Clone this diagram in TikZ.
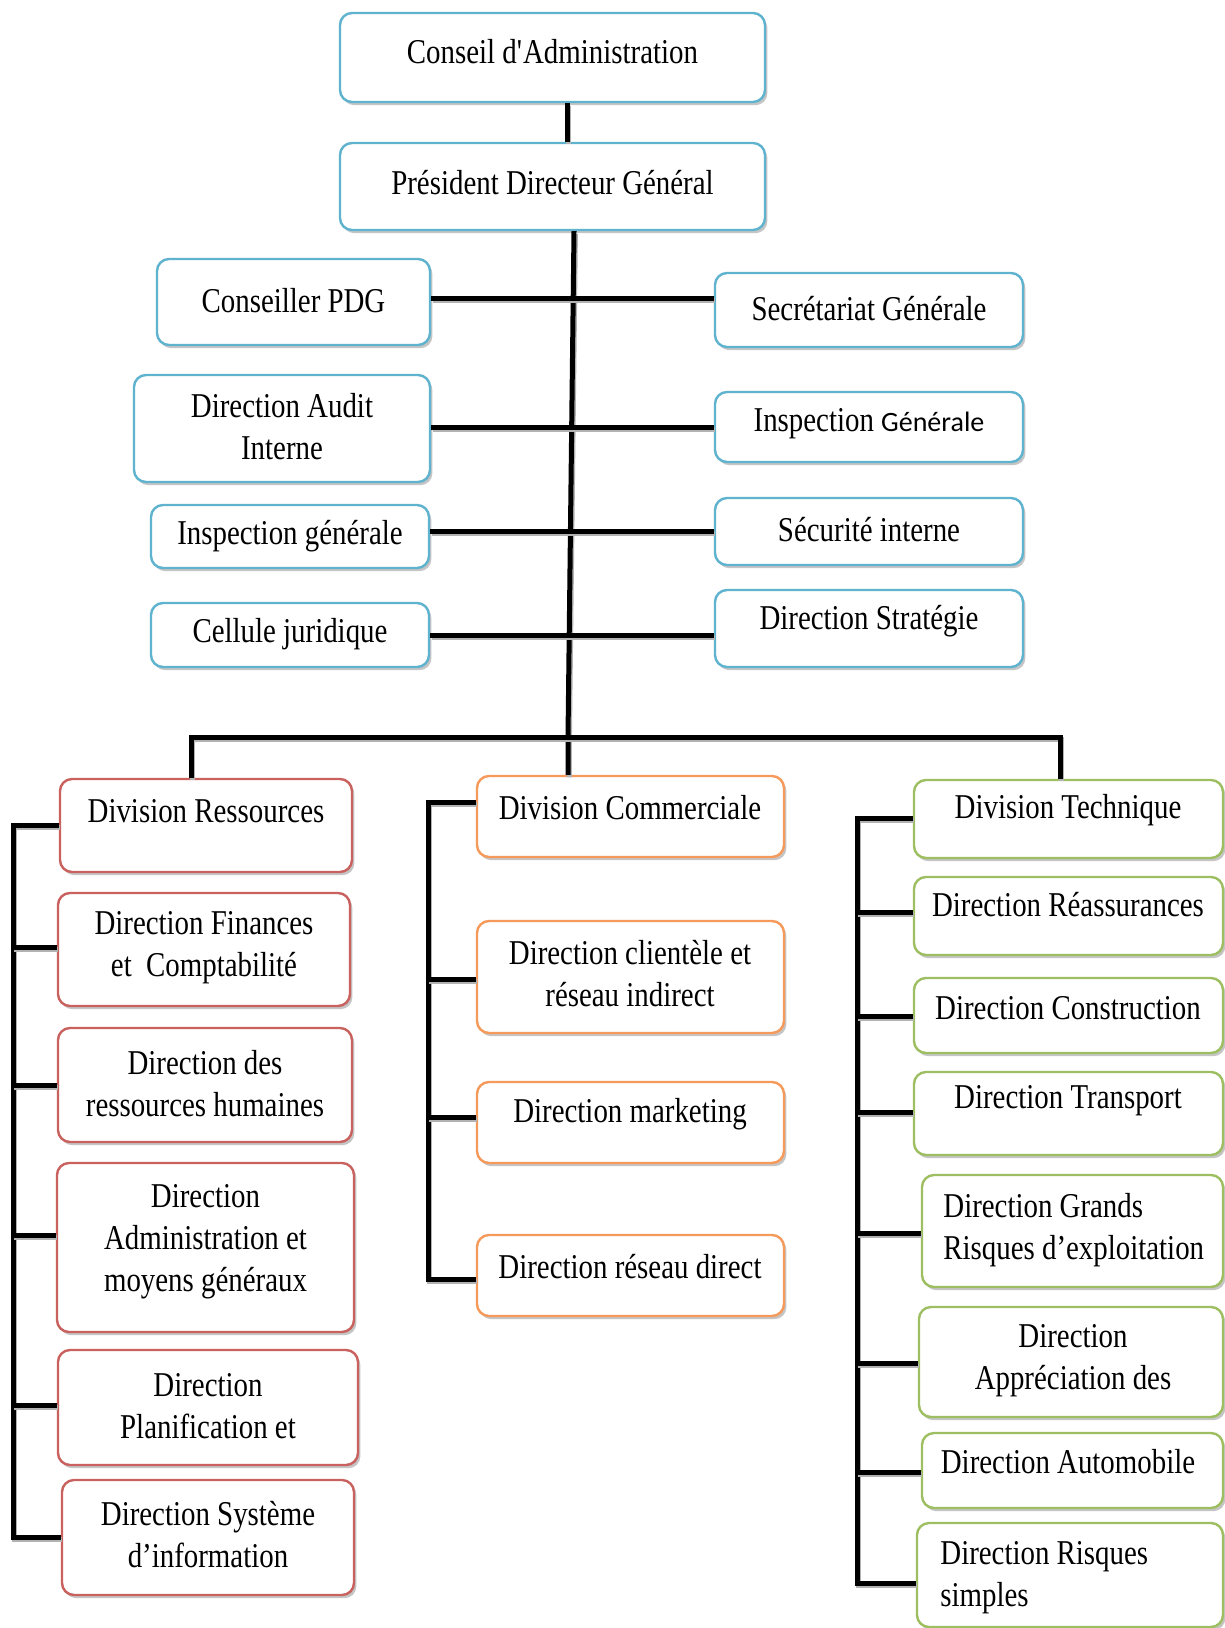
\documentclass[tikz,border=0pt]{standalone}
\usepackage{fontspec}
\setmainfont{Liberation Serif}[FakeStretch=0.83]
\newfontfamily\calib{Carlito}
\usetikzlibrary{fit,shadows}
\definecolor{cblue}{HTML}{5FB3CE}
\definecolor{cred}{HTML}{C9615E}
\definecolor{corange}{HTML}{F59A5A}
\definecolor{cgreen}{HTML}{9DBF62}
\tikzset{
  boxbase/.style={draw, line width=1.2pt, rounded corners=6pt, fill=white, inner sep=0pt,
    drop shadow={shadow xshift=1.2pt, shadow yshift=-1.6pt, fill=black!45, opacity=0.5}},
  bbox/.style={boxbase, draw=cblue},
  rbox/.style={boxbase, draw=cred},
  obox/.style={boxbase, draw=corange},
  gbox/.style={boxbase, draw=cgreen},
  txt/.style={inner sep=0pt, align=center, font=\fontsize{17.4}{21}\selectfont},
  ltxt/.style={txt, align=left, anchor=west},
  conn/.style={draw=black, line width=2.5pt,
    preaction={draw=black!30, line width=2.5pt, transform canvas={shift={(0.7pt,-1.3pt)}}}},
}
\begin{document}
\begin{tikzpicture}[x=0.5pt, y=-0.5pt]
\useasboundingbox[fill=white] (0,0) rectangle (1225,1628);

% ---- helper coordinates
\coordinate (c0) at (567,0);
\coordinate (t0) at (574,0);
\coordinate (busL) at (191,737);
\coordinate (busM) at (568,737);
\coordinate (busR) at (1060,737);
\coordinate (h1) at (0,298);
\coordinate (h2) at (0,427);
\coordinate (h3) at (0,531);
\coordinate (h4) at (0,635);
\coordinate (vL) at (13,0);
\coordinate (vM) at (428,0);
\coordinate (vR) at (857,0);

% ---- top level
\node[bbox, fit={(340,13)(765,102)}] (ca) {};
\node[txt] (cat) at (552.5,52) {Conseil d\textquotesingle Administration};
\node[bbox, fit={(340,143)(765,230)}] (pdg) {};
\node[txt] (pdgt) at (552.5,183) {Président Directeur Général};

% ---- staff, left
\node[bbox, fit={(157,259)(430,345)}] (cpdg) {};
\node[txt] (cpdgt) at (293.5,301) {Conseiller PDG};
\node[bbox, fit={(134,375)(430,482)}] (audit) {};
\node[txt] (auditt) at (282,427) {Direction Audit\\Interne};
\node[bbox, fit={(151,505)(429,568)}] (insp) {};
\node[txt] (inspt) at (290,536) {Inspection générale};
\node[bbox, fit={(151,603)(429,667)}] (cell) {};
\node[txt] (cellt) at (290,634) {Cellule juridique};

% ---- staff, right
\node[bbox, fit={(715,273)(1023,347)}] (sec) {};
\node[txt] (sect) at (869,309) {Secrétariat Générale};
\node[bbox, fit={(715,392)(1023,462)}] (inspg) {};
\node[txt] (inspgt) at (869,424) {Inspection {\calib\fontsize{14}{16}\selectfont Générale}};
\node[bbox, fit={(715,498)(1023,565)}] (secu) {};
\node[txt] (secut) at (869,530) {Sécurité interne};
\node[bbox, fit={(715,590)(1023,667)}] (strat) {};
\node[txt] (stratt) at (869,621) {Direction Stratégie};

% ---- Division Ressources
\node[rbox, fit={(60,779)(352,872)}] (divres) {};
\node[txt] (divrest) at (206,811) {Division Ressources};
\node[rbox, fit={(58,893)(350,1006)}] (fin) {};
\node[txt] (fint) at (204,948) {Direction Finances\\et~~Comptabilité};
\node[rbox, fit={(58,1028)(352,1142)}] (rh) {};
\node[txt] (rht) at (205,1084) {Direction des\\ressources humaines};
\node[rbox, fit={(57,1163)(354,1332)}] (adm) {};
\node[txt] (admt) at (205.5,1242) {Direction\\Administration et\\moyens généraux};
\node[rbox, fit={(58,1350)(358,1465)}] (plan) {};
\node[txt] (plant) at (208,1406) {Direction\\Planification et};
\node[rbox, fit={(62,1480)(354,1595)}] (sys) {};
\node[txt] (syst) at (208,1535) {Direction Système\\d’information};

% ---- Division Commerciale
\node[obox, fit={(477,776)(784,857)}] (divcom) {};
\node[txt] (divcomt) at (630,808) {Division Commerciale};
\node[obox, fit={(477,921)(784,1033)}] (cli) {};
\node[txt] (clit) at (630,974) {Direction clientèle et\\réseau indirect};
\node[obox, fit={(477,1082)(784,1163)}] (mkt) {};
\node[txt] (mktt) at (630,1114) {Direction marketing};
\node[obox, fit={(477,1235)(784,1316)}] (rdir) {};
\node[txt] (rdirt) at (630,1267) {Direction réseau direct};

% ---- Division Technique
\node[gbox, fit={(914,780)(1223,858)}] (divtech) {};
\node[txt] (divtecht) at (1068,810) {Division Technique};
\node[gbox, fit={(914,877)(1223,955)}] (reas) {};
\node[txt] (reast) at (1068,905) {Direction Réassurances};
\node[gbox, fit={(914,978)(1223,1053)}] (cons) {};
\node[txt] (const) at (1068,1008) {Direction Construction};
\node[gbox, fit={(914,1072)(1223,1155)}] (trans) {};
\node[txt] (transt) at (1068,1101) {Direction Transport};
\node[gbox, fit={(922,1175)(1223,1287)}] (grands) {};
\node[ltxt] (grandst) at (943,1230) {Direction Grands\\Risques d’exploitation};
\node[gbox, fit={(919,1307)(1223,1417)}] (appr) {};
\node[txt] (apprt) at (1073,1361) {Direction\\Appréciation des};
\node[gbox, fit={(922,1433)(1223,1508)}] (auto) {};
\node[txt] (autot) at (1068,1462) {Direction Automobile};
\node[gbox, fit={(917,1523)(1223,1627)}] (simp) {};
\node[ltxt] (simpt) at (940,1578) {Direction Risques\\simples};

% ---- connectors
\draw[conn] (ca.south -| c0) -- (pdg.north -| c0);
\draw[conn] (pdg.south -| t0) -- (busM) -- (divcom.north -| busM);
\draw[conn] (cpdg.east |- h1) -- (sec.west |- h1);
\draw[conn] (audit.east |- h2) -- (inspg.west |- h2);
\draw[conn] (insp.east |- h3) -- (secu.west |- h3);
\draw[conn] (cell.east |- h4) -- (strat.west |- h4);
\draw[conn] (divres.north -| busL) -- (busL) -- (busR) -- (divtech.north -| busR);

% left bus
\coordinate (l1) at (0,825);
\coordinate (l2) at (0,947);
\coordinate (l3) at (0,1085);
\coordinate (l4) at (0,1235);
\coordinate (l5) at (0,1405);
\coordinate (l6) at (0,1537);
\draw[conn] (divres.west |- l1) -- (vL |- l1) -- (vL |- l6) -- (sys.west |- l6);
\draw[conn] (vL |- l2) -- (fin.west |- l2);
\draw[conn] (vL |- l3) -- (rh.west |- l3);
\draw[conn] (vL |- l4) -- (adm.west |- l4);
\draw[conn] (vL |- l5) -- (plan.west |- l5);

% middle bus
\coordinate (m1) at (0,802);
\coordinate (m2) at (0,979);
\coordinate (m3) at (0,1117);
\coordinate (m4) at (0,1279);
\draw[conn] (divcom.west |- m1) -- (vM |- m1) -- (vM |- m4) -- (rdir.west |- m4);
\draw[conn] (vM |- m2) -- (cli.west |- m2);
\draw[conn] (vM |- m3) -- (mkt.west |- m3);

% right bus
\coordinate (r1) at (0,818);
\coordinate (r2) at (0,912);
\coordinate (r3) at (0,1016);
\coordinate (r4) at (0,1112);
\coordinate (r5) at (0,1233);
\coordinate (r6) at (0,1363);
\coordinate (r7) at (0,1472);
\coordinate (r8) at (0,1583);
\draw[conn] (divtech.west |- r1) -- (vR |- r1) -- (vR |- r8) -- (simp.west |- r8);
\draw[conn] (vR |- r2) -- (reas.west |- r2);
\draw[conn] (vR |- r3) -- (cons.west |- r3);
\draw[conn] (vR |- r4) -- (trans.west |- r4);
\draw[conn] (vR |- r5) -- (grands.west |- r5);
\draw[conn] (vR |- r6) -- (appr.west |- r6);
\draw[conn] (vR |- r7) -- (auto.west |- r7);
\end{tikzpicture}
\end{document}
